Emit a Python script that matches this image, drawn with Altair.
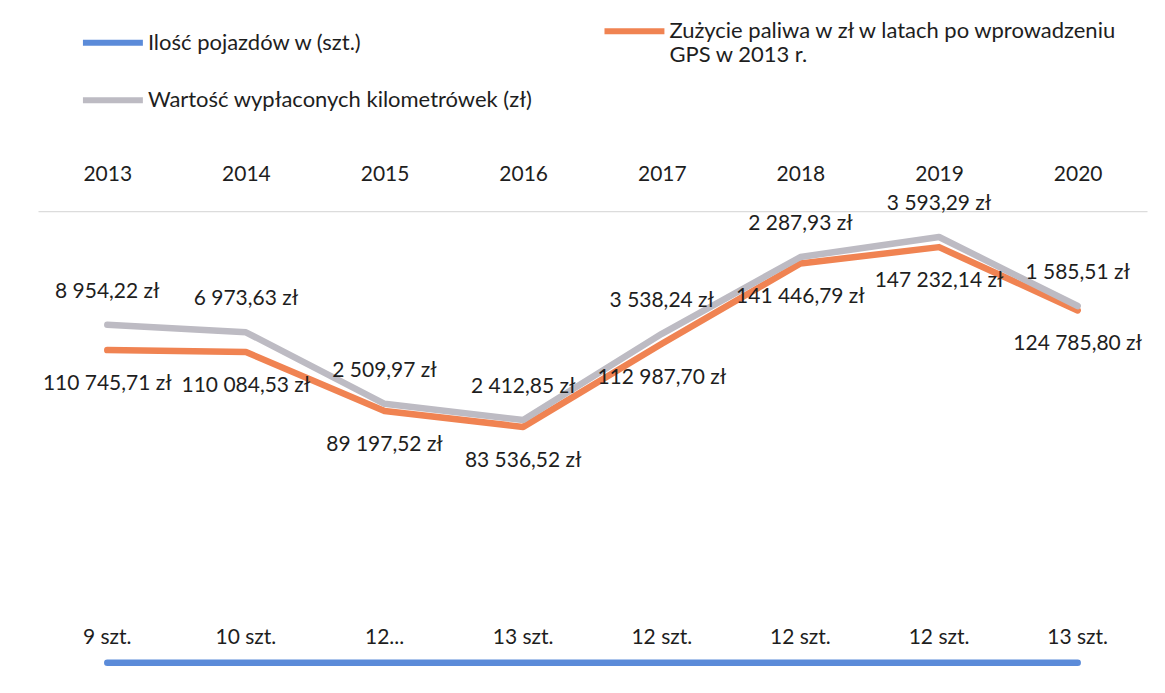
import altair as alt
import pandas as pd

years = ["2013", "2014", "2015", "2016", "2017", "2018", "2019", "2020"]
vehicles = [9, 10, 12, 13, 12, 12, 12, 13]
vehicle_labels = ["9 szt.", "10 szt.", "12...", "13 szt.", "12 szt.", "12 szt.", "12 szt.", "13 szt."]
fuel = [110745.71, 110084.53, 89197.52, 83536.52, 112987.70, 141446.79, 147232.14, 124785.80]
mileage = [8954.22, 6973.63, 2509.97, 2412.85, 3538.24, 2287.93, 3593.29, 1585.51]

s_blue = "Ilość pojazdów w (szt.)"
s_orange = "Zużycie paliwa w zł w latach po wprowadzeniu GPS w 2013 r."
s_grey = "Wartość wypłaconych kilometrówek (zł)"
series = [s_blue, s_orange, s_grey]
colors = ["#5B8BD9", "#F08352", "#BDBBC3"]

rows = []
for i, y in enumerate(years):
    rows.append({"year": y, "series": s_blue, "order": 0, "value": vehicles[i], "label": vehicle_labels[i]})
    rows.append({"year": y, "series": s_orange, "order": 1, "value": fuel[i], "label": ""})
    rows.append({"year": y, "series": s_grey, "order": 2, "value": mileage[i], "label": ""})
df = pd.DataFrame(rows)

FONT = "Lato"
TXT = "#1e1e1e"

base = alt.Chart(df).transform_stack(
    stack="value", groupby=["year"], as_=["y0", "y1"], sort=[alt.SortField("order")]
).transform_calculate(
    zl="replace(replace(format(datum.value, ',.2f'), ',', ' '), '.', ',') + ' zł'"
)

x = alt.X("year:O", sort=years, scale=alt.Scale(type="point", padding=0.5),
          axis=alt.Axis(orient="top", title=None, labelAngle=0, labelFont=FONT, labelFontSize=21,
                        labelColor=TXT, labelPadding=27, ticks=False, domain=False, grid=False))
y = alt.Y("y1:Q", scale=alt.Scale(domain=[0, 160000], nice=False),
          axis=alt.Axis(title=None, labels=False, ticks=False, domain=False, values=[160000],
                        grid=True, gridColor="#dcdcdc", gridWidth=1.2))

lines = base.mark_line(strokeWidth=6.5, strokeCap="round", strokeJoin="round").encode(
    x=x, y=y,
    color=alt.Color("series:N", scale=alt.Scale(domain=series, range=colors),
                    legend=alt.Legend(orient="none", legendX=42, legendY=-213, columns=2, title=None,
                                      direction="horizontal", values=series,
                                      symbolType="stroke", symbolSize=3600, symbolStrokeWidth=6,
                                      labelFont=FONT, labelFontSize=22, labelColor=TXT,
                                      labelLimit=700, columnPadding=60, rowPadding=1, labelOffset=2,
                                      labelExpr="datum.label == '" + s_orange + "' ? ['Zużycie paliwa w zł w latach po wprowadzeniu', 'GPS w 2013 r.'] : datum.label")),
    order=alt.Order("order:Q"),
    detail="series:N",
)

txt_kw = dict(font=FONT, fontSize=21, color=TXT)
t_grey = base.transform_filter(alt.datum.order == 2).mark_text(dy=-33, **txt_kw).encode(
    x=x, y=y, text="zl:N")
t_orange = base.transform_filter(alt.datum.order == 1).mark_text(dy=34, **txt_kw).encode(
    x=x, y=y, text="zl:N")
t_blue = base.transform_filter(alt.datum.order == 0).mark_text(dy=-25, **txt_kw).encode(
    x=x, y=y, text="label:N")

chart = alt.layer(lines, t_grey, t_orange, t_blue).properties(
    width=1110, height=452,
    autosize=alt.AutoSizeParams(type="none"),
    padding={"left": 30, "top": 203, "right": 10, "bottom": 20},
    background="white",
).configure_view(stroke="transparent", strokeWidth=0)

chart.save("out.html", embed_options={"renderer": "svg", "actions": False})
